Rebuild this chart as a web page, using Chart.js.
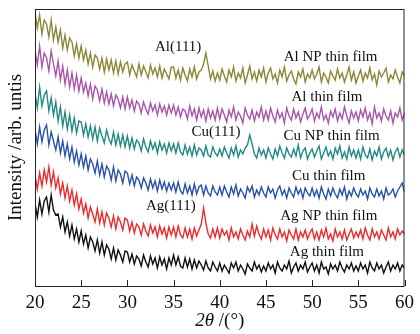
<!DOCTYPE html>
<html>
<head>
<meta charset="utf-8">
<script src="https://cdn.jsdelivr.net/npm/chart.js@4"></script>
<style>
  html, body { margin: 0; padding: 0; background: #fff; }
  #wrap { width: 420px; height: 334px; position: relative; }
</style>
</head>
<body>
<div id="wrap"><canvas id="chart"></canvas></div>
<script>
// scan grid: 20..60 deg, one reading every 0.25 deg
const thetaStart = 20;
const thetaStep = 0.25;
const xTicks = [20, 25, 30, 35, 40, 45, 50, 55, 60];

// intensities (arb. units, curves already offset)
const alNpFilm = [
  274,258,271,252,266,262,249,266,246,259,244,256,238,251,236,248,244,230,242,228,
  240,226,236,222,233,219,231,228,217,228,214,227,216,226,213,225,212,224,214,222,
  224,211,221,215,209,222,211,220,214,208,221,212,218,209,220,208,217,212,207,219,
  219,208,216,206,218,211,205,217,209,219,207,214,216,222,233,220,207,215,205,213,
  206,217,210,204,216,209,219,205,213,208,218,203,211,220,207,214,205,216,209,218,
  204,213,218,207,212,203,216,209,219,205,211,215,207,202,214,209,217,204,212,208,
  216,207,212,219,204,213,209,203,215,210,206,217,208,213,204,211,219,206,214,203,
  210,216,205,213,208,218,206,212,201,215,209,213,218,204,211,207,216,209,203,214,
  210
];
const alFilm = [
  236,221,240,219,233,228,215,235,222,210,225,206,220,202,216,199,213,197,211,195,
  208,194,203,190,202,187,200,196,185,197,183,194,182,192,180,191,187,178,189,177,
  189,178,186,175,185,182,173,184,177,172,183,175,181,171,182,174,180,171,181,173,
  181,171,179,169,177,175,167,180,170,177,166,178,169,176,165,177,168,175,166,178,
  167,177,171,164,176,169,179,166,174,170,163,178,171,167,176,165,174,169,179,166,
  175,166,178,170,164,176,168,173,163,178,170,166,177,168,174,164,172,178,167,171,
  177,165,173,168,179,166,171,163,175,169,177,165,173,167,179,170,163,175,168,174,
  165,176,169,178,166,173,162,179,168,173,165,177,170,166,175,163,173,169,178,166,
  173
];
const cuNpFilm = [
  193,178,199,180,191,195,175,188,171,184,165,179,160,174,157,171,155,168,153,165,
  164,151,162,149,160,147,159,145,158,150,143,156,147,142,154,141,152,140,151,139,
  150,138,148,137,146,143,135,147,139,134,145,137,143,133,144,136,142,133,143,135,
  142,133,143,134,131,141,132,139,130,141,131,138,136,130,140,131,129,139,133,130,
  137,130,139,133,128,138,131,140,129,136,132,138,141,151,142,132,128,138,131,136,
  128,138,132,127,137,130,140,133,128,138,132,129,137,130,141,128,135,138,127,133,
  137,129,135,140,127,133,139,130,135,127,138,132,140,128,134,127,139,130,136,128,
  136,127,139,131,128,137,126,135,130,139,127,134,138,129,136,126,134,138,129,136,
  131
];
const cuFilm = [
  157,142,159,144,156,161,141,154,145,136,149,133,145,130,142,127,139,124,135,121,
  132,119,130,116,127,122,113,125,111,122,109,120,116,106,119,105,116,112,103,115,
  113,102,111,100,109,106,98,108,103,96,107,98,105,95,106,97,104,95,103,96,
  103,94,104,95,92,102,93,100,91,102,92,99,101,91,100,93,90,100,94,91,
  99,91,100,94,89,99,92,101,90,97,93,88,99,94,100,89,96,91,99,93,
  89,99,93,97,88,96,100,91,96,88,98,93,89,99,92,97,88,98,93,90,
  98,90,96,88,99,92,87,97,90,98,92,88,97,91,99,87,95,90,98,92,
  89,97,91,95,87,98,92,89,97,90,95,87,98,91,93,97,89,95,99,103,
  94
];
const agNpFilm = [
  111,97,113,100,116,104,119,101,114,98,108,92,103,88,100,85,96,81,92,77,
  87,73,82,68,79,72,64,77,63,74,61,73,68,59,70,57,69,64,56,68,
  66,55,64,53,62,59,51,62,55,50,61,53,59,49,60,52,58,48,59,51,
  59,49,60,51,48,58,49,57,47,58,50,56,62,78,63,52,48,57,49,58,
  48,57,51,55,46,58,49,54,47,57,51,46,55,49,62,50,60,52,47,57,
  49,56,46,58,51,47,57,49,54,45,56,51,47,57,46,54,49,56,47,53,
  57,47,54,46,56,49,58,47,52,45,57,49,54,47,56,46,52,57,48,54,
  49,56,47,58,51,46,57,49,54,47,56,51,46,58,49,54,47,57,51,55,
  52
];
const agFilm = [
  83,69,86,72,85,89,74,91,76,71,72,59,69,54,64,50,61,47,57,44,
  55,42,51,38,49,44,35,46,33,44,31,41,37,27,38,26,36,31,24,35,
  34,24,32,22,30,27,20,31,24,19,30,22,28,18,29,21,27,17,28,21,
  31,21,29,20,18,28,19,27,17,26,18,25,21,16,25,18,15,24,19,15,
  23,15,21,17,13,23,18,24,15,21,17,12,22,18,15,24,17,21,14,20,
  15,23,17,21,13,24,18,15,21,17,25,13,19,23,15,21,17,24,14,19,
  23,15,21,13,24,17,19,12,22,17,21,15,24,18,14,21,17,23,15,20,
  15,23,17,21,13,24,18,15,23,17,21,13,19,24,15,21,17,23,15,21,
  18
];

const seriesNames = ["Al NP thin film", "Al thin film", "Cu NP thin film", "Cu thin film", "Ag NP thin film", "Ag thin film"];
const seriesData = [alNpFilm, alFilm, cuNpFilm, cuFilm, agNpFilm, agFilm];
const seriesColors = ["#8a8836", "#a956a9", "#218a82", "#2a52a8", "#ec2b2b", "#111111"];

// text placed on the plot, anchored in data units [2theta, intensity]
const notes = [
  { text: "Al(111)", at: [35.5, 239] },
  { text: "Al NP thin film", at: [52.0, 229] },
  { text: "Al thin film", at: [51.6, 189] },
  { text: "Cu(111)", at: [39.6, 154] },
  { text: "Cu NP thin film", at: [52.1, 150] },
  { text: "Cu thin film", at: [51.8, 110] },
  { text: "Ag(111)", at: [34.7, 80] },
  { text: "Ag NP thin film", at: [51.8, 70] },
  { text: "Ag thin film", at: [51.6, 34] },
];

const serif = '"Liberation Serif", "DejaVu Serif", serif';

const toPoints = (arr) => arr.map((v, i) => ({ x: thetaStart + i * thetaStep, y: v }));

const frame = {
  id: "frame",
  afterDatasetsDraw(chart) {
    const { ctx, chartArea: a, scales: { x, y } } = chart;
    ctx.save();
    ctx.strokeStyle = "#222";
    ctx.lineWidth = 1;
    ctx.strokeRect(a.left + 0.5, a.top + 0.5, a.right - a.left - 1, a.bottom - a.top);
    ctx.beginPath();
    xTicks.forEach((v) => {
      const px = Math.round(x.getPixelForValue(v)) + 0.5;
      ctx.moveTo(px, a.bottom);
      ctx.lineTo(px, a.bottom - 6);
    });
    ctx.stroke();

    ctx.fillStyle = "#111";
    ctx.font = "15px " + serif;
    ctx.textAlign = "center";
    ctx.textBaseline = "middle";
    notes.forEach((n) => {
      ctx.fillText(n.text, x.getPixelForValue(n.at[0]), y.getPixelForValue(n.at[1]));
    });

    // x title: italic 2θ followed by upright unit
    const cx = (a.left + a.right) / 2;
    const ty = 321;
    ctx.textAlign = "left";
    ctx.font = "italic 19px " + serif;
    const part1 = "2θ";
    const w1 = ctx.measureText(part1).width;
    ctx.font = "19px " + serif;
    const part2 = " /(°)";
    const w2 = ctx.measureText(part2).width;
    const start = cx - (w1 + w2) / 2;
    ctx.font = "italic 19px " + serif;
    ctx.fillText(part1, start, ty);
    ctx.font = "19px " + serif;
    ctx.fillText(part2, start + w1, ty);
    ctx.restore();
  },
};

const config = {
  type: "line",
  data: {
    datasets: seriesData.map((arr, i) => ({
      label: seriesNames[i],
      data: toPoints(arr),
      borderColor: seriesColors[i],
      borderWidth: 1.4,
      pointRadius: 0,
      tension: 0,
      fill: false,
    })),
  },
  options: {
    responsive: true,
    maintainAspectRatio: false,
    animation: false,
    events: [],
    layout: { padding: { top: 9, right: 10, left: 0, bottom: 0 } },
    plugins: {
      legend: { display: false },
      tooltip: { enabled: false },
    },
    scales: {
      x: {
        type: "linear",
        min: 20,
        max: 60,
        afterBuildTicks: (s) => {
          s.ticks = xTicks.map((v) => ({ value: v }));
        },
        afterFit: (s) => {
          s.height = 48;
        },
        grid: { display: false, drawTicks: false },
        border: { display: false },
        ticks: {
          color: "#111",
          padding: 6,
          maxRotation: 0,
          font: { family: serif, size: 19 },
        },
      },
      y: {
        min: 0,
        max: 277,
        afterFit: (s) => {
          s.width = 35;
        },
        grid: { display: false, drawTicks: false },
        border: { display: false },
        ticks: { display: false },
        title: {
          display: true,
          text: "Intensity /arb. untis",
          color: "#111",
          padding: { top: 5, bottom: 0 },
          font: { family: serif, size: 19, lineHeight: 1.2 },
        },
      },
    },
  },
  plugins: [frame],
};

new Chart(document.getElementById("chart"), config);
</script>
</body>
</html>
